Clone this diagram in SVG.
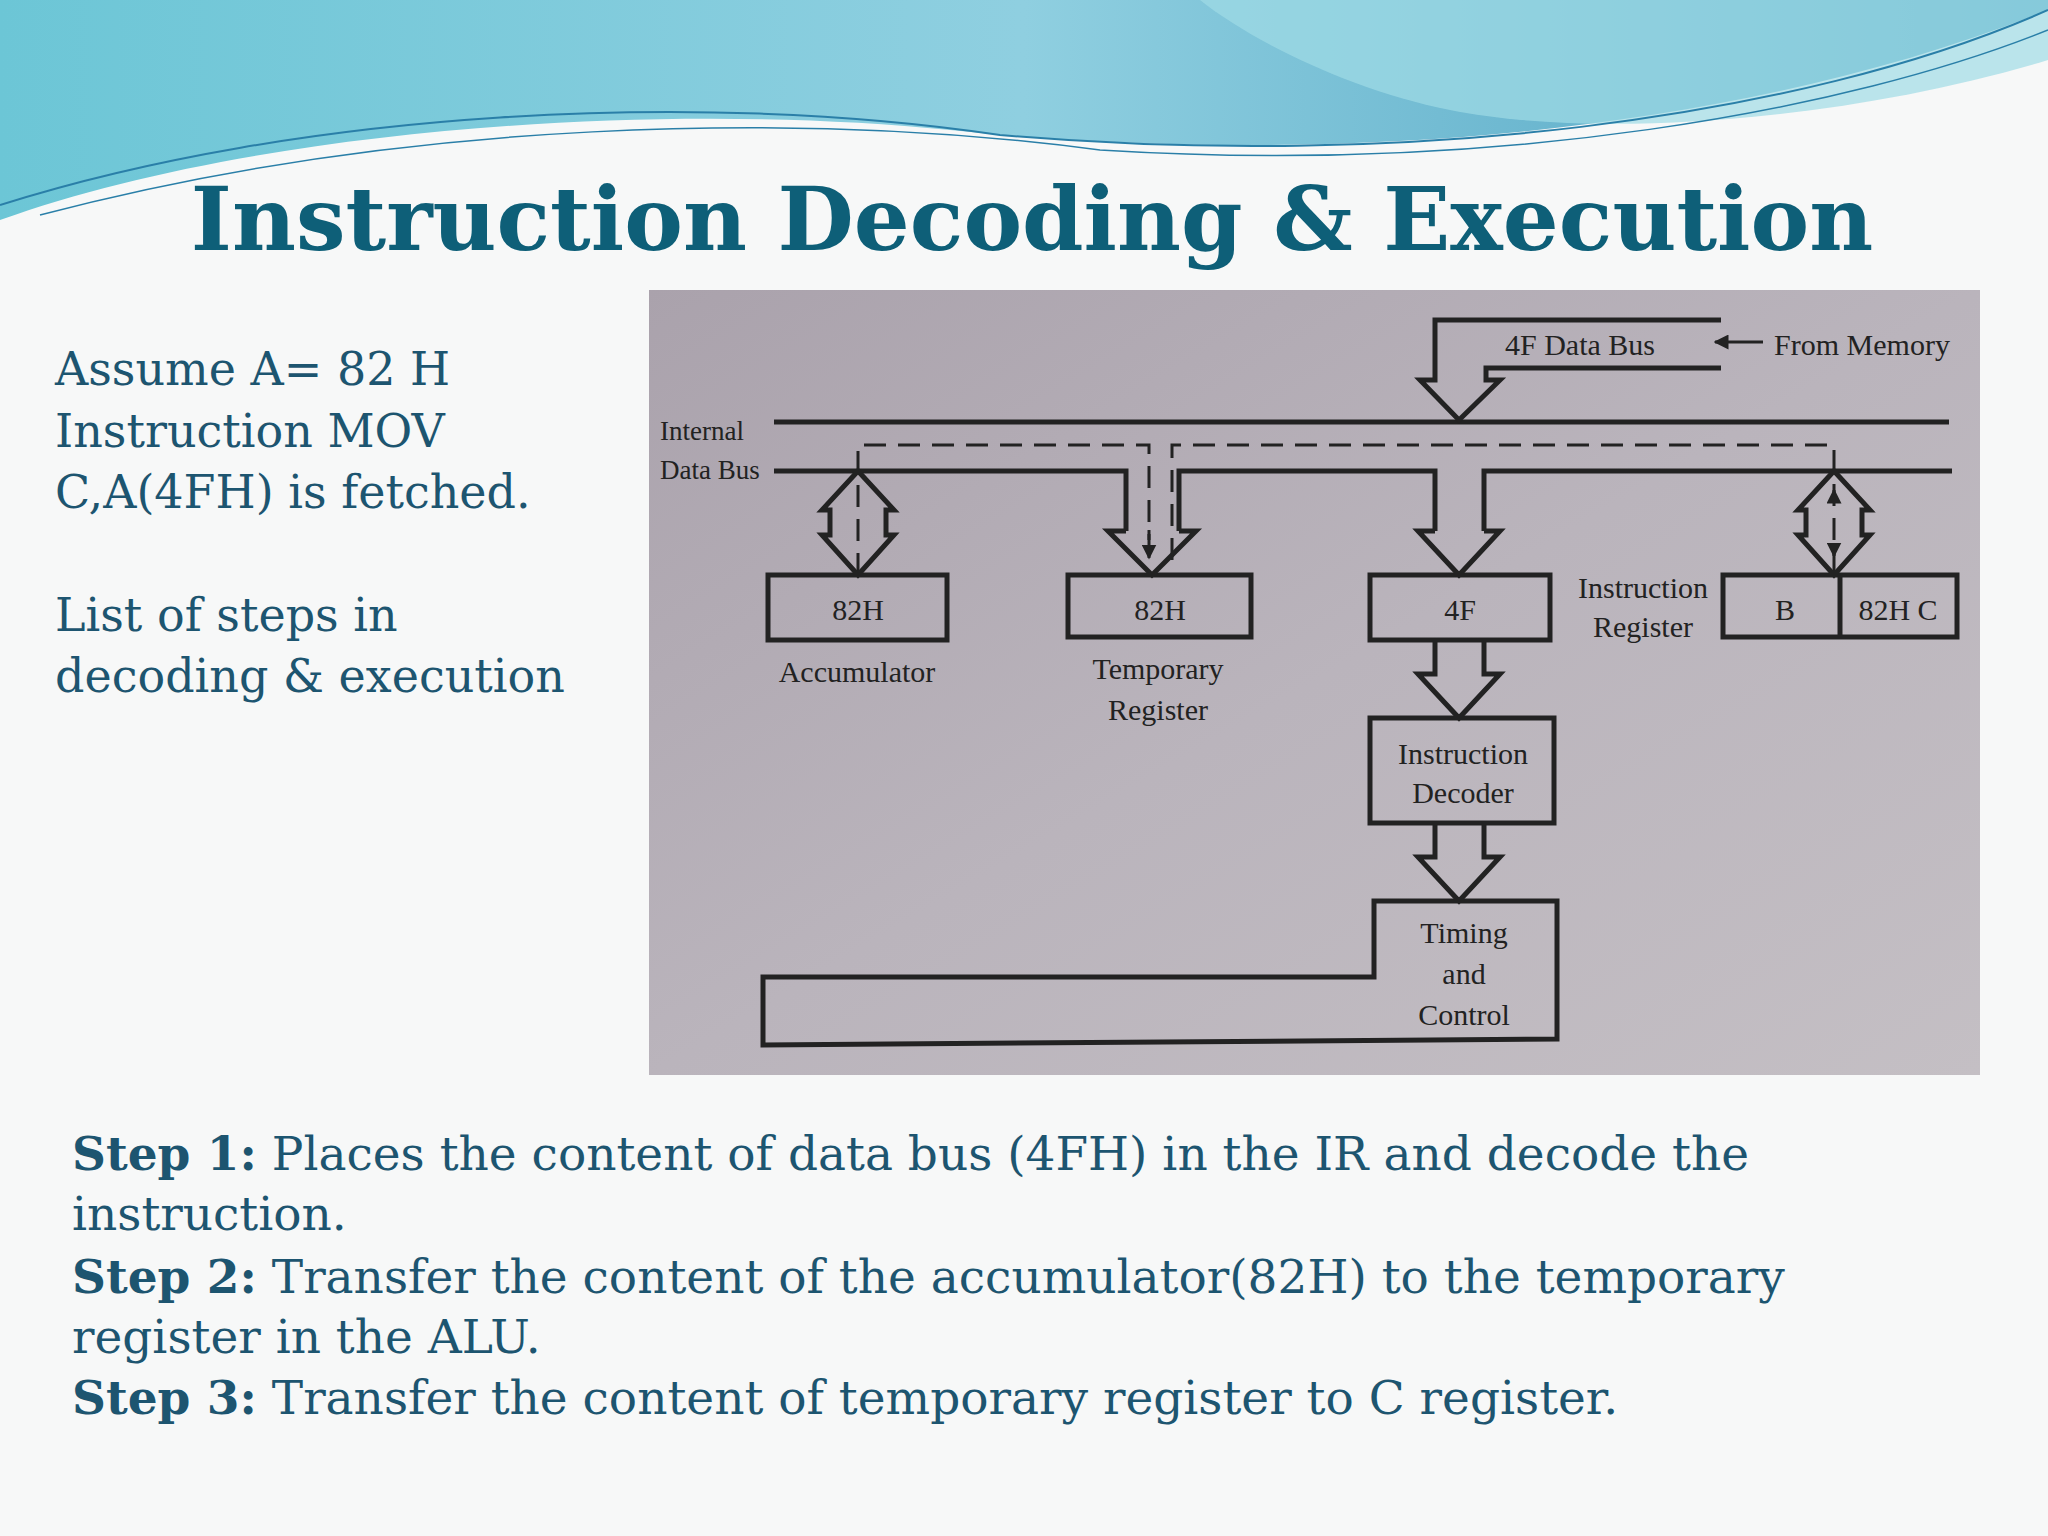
<svg xmlns="http://www.w3.org/2000/svg" width="2048" height="1536" viewBox="0 0 2048 1536">
<defs>
<linearGradient id="wave" x1="0" y1="0" x2="1" y2="0"><stop offset="0" stop-color="#6cc6d6"/><stop offset="0.5" stop-color="#8fcfe0"/><stop offset="1" stop-color="#4aa0c0"/></linearGradient>
<linearGradient id="photo" x1="0" y1="0" x2="1" y2="1"><stop offset="0" stop-color="#aaa2ac"/><stop offset="0.5" stop-color="#bab4bc"/><stop offset="1" stop-color="#c4bfc4"/></linearGradient>
<marker id="ah" viewBox="0 0 10 10" refX="9" refY="5" markerWidth="5" markerHeight="5" orient="auto"><path d="M0,0 L10,5 L0,10 z" fill="#222"/></marker>
<style>
.ln{stroke:#222;stroke-width:5;fill:none}
.bx{stroke:#222;stroke-width:5;fill:none}
.ds{stroke:#222;stroke-width:3;fill:none;stroke-dasharray:22 12}
.dt{font-family:"Liberation Serif",serif;font-size:30px;fill:#222;text-anchor:middle}
.sm{font-family:"Liberation Serif",serif;font-size:27px;fill:#222}
.lt{font-family:"DejaVu Serif",serif;font-size:46px;fill:#1d5570}
.st{font-family:"DejaVu Serif",serif;font-size:47px;fill:#1d5570}
</style>
</defs>
<rect width="2048" height="1536" fill="#f7f8f8"/>
<path d="M0,0 H2048 V10 C1750,130 1350,170 950,130 C650,100 250,130 0,220 Z" fill="url(#wave)"/>
<path d="M1200,0 H2048 V60 C1850,120 1600,140 1450,110 C1350,90 1250,40 1200,0 Z" fill="#9fdce6" opacity="0.7"/>
<path d="M0,205 C300,110 700,90 1000,135 C1400,170 1800,120 2048,10" stroke="#2a7fa8" stroke-width="2" fill="none"/>
<path d="M40,215 C400,120 800,110 1100,150 C1500,175 1850,110 2048,30" stroke="#2a7fa8" stroke-width="1.5" fill="none"/>
<text x="1032" y="250" text-anchor="middle" font-family="DejaVu Serif,serif" font-weight="bold" font-size="88" fill="#0e5f78">Instruction Decoding &amp; Execution</text>
<g id="left-text">
<text class="lt" x="55" y="385">Assume A= 82 H</text>
<text class="lt" x="55" y="447">Instruction  MOV</text>
<text class="lt" x="55" y="508">C,A(4FH) is fetched.</text>
<text class="lt" x="55" y="631">List of steps in</text>
<text class="lt" x="55" y="692">decoding &amp; execution</text>
</g>
<rect x="649" y="290" width="1331" height="785" fill="url(#photo)"/>
<g id="connectors">
<path class="ln" d="M774,422 H1949"/>
<path class="ln" d="M774,471 H1126 V531 M1179,531 V471 H1435 V531 M1484,531 V471 H1952"/>
<path class="ds" d="M858,575 V445 H1149 V540"/>
<path class="ds" d="M1172,560 V445 H1834 V575"/>
<path d="M1149,530 V558" stroke="#222" stroke-width="3" marker-end="url(#ah)"/>
<path class="ln" d="M1126,531 H1108 L1152,575 L1196,531 H1179"/>
<path class="ln" d="M1435,531 H1418 L1459,575 L1500,531 H1484"/>
<path class="ln" d="M858,471 L822,510 H830 V535 H822 L858,575 L894,535 H886 V510 H894 Z"/>
<path class="ln" d="M1834,471 L1798,510 H1806 V535 H1798 L1834,575 L1870,535 H1862 V510 H1870 Z"/>
<path d="M1834,500 V490" stroke="#222" stroke-width="3" marker-end="url(#ah)"/>
<path d="M1834,545 V556" stroke="#222" stroke-width="3" marker-end="url(#ah)"/>
<path class="ln" d="M1721,320 H1435 V380 H1420 L1459,420 L1500,380 H1486 V368 H1721"/>
<path d="M1763,342 H1715" stroke="#222" stroke-width="3" marker-end="url(#ah)"/>
<path class="ln" d="M1435,640 V674 H1418 L1459,718 L1500,674 H1484 V640"/>
<path class="ln" d="M1435,823 V857 H1418 L1459,901 L1500,857 H1484 V823"/>
</g>
<g id="labels-bus">
<text class="sm" x="660" y="440">Internal</text>
<text class="sm" x="660" y="479">Data Bus</text>
<text class="dt" x="1580" y="355">4F Data Bus</text>
<text class="dt" x="1862" y="355">From Memory</text>
</g>
<g id="accumulator">
<rect class="bx" x="768" y="575" width="179" height="65"/>
<text class="dt" x="858" y="620">82H</text>
<text class="dt" x="857" y="682">Accumulator</text>
</g>
<g id="temp-register">
<rect class="bx" x="1068" y="575" width="183" height="62"/>
<text class="dt" x="1160" y="620">82H</text>
<text class="dt" x="1158" y="679">Temporary</text>
<text class="dt" x="1158" y="720">Register</text>
</g>
<g id="instruction-register">
<rect class="bx" x="1370" y="575" width="180" height="65"/>
<text class="dt" x="1460" y="620">4F</text>
<text class="dt" x="1643" y="598">Instruction</text>
<text class="dt" x="1643" y="637">Register</text>
</g>
<g id="bc-register">
<rect class="bx" x="1723" y="575" width="234" height="62"/>
<path class="ln" d="M1840,575 V637"/>
<text class="dt" x="1785" y="620">B</text>
<text class="dt" x="1898" y="620">82H C</text>
</g>
<g id="decoder">
<rect class="bx" x="1370" y="718" width="184" height="105"/>
<text class="dt" x="1463" y="764">Instruction</text>
<text class="dt" x="1463" y="803">Decoder</text>
</g>
<g id="timing-control">
<path class="bx" d="M1374,901 H1557 V1039 L763,1045 V977 H1374 Z"/>
<text class="dt" x="1464" y="943">Timing</text>
<text class="dt" x="1464" y="984">and</text>
<text class="dt" x="1464" y="1025">Control</text>
</g>
<g id="steps">
<text class="st" x="72" y="1170"><tspan font-weight="bold">Step 1:</tspan> Places the content of data bus (4FH) in the IR and decode the</text>
<text class="st" x="72" y="1230">instruction.</text>
<text class="st" x="72" y="1293"><tspan font-weight="bold">Step 2:</tspan> Transfer the content of the accumulator(82H) to the temporary</text>
<text class="st" x="72" y="1353">register in the ALU.</text>
<text class="st" x="72" y="1414"><tspan font-weight="bold">Step 3:</tspan> Transfer the content of temporary register to C register.</text>
</g>
</svg>
